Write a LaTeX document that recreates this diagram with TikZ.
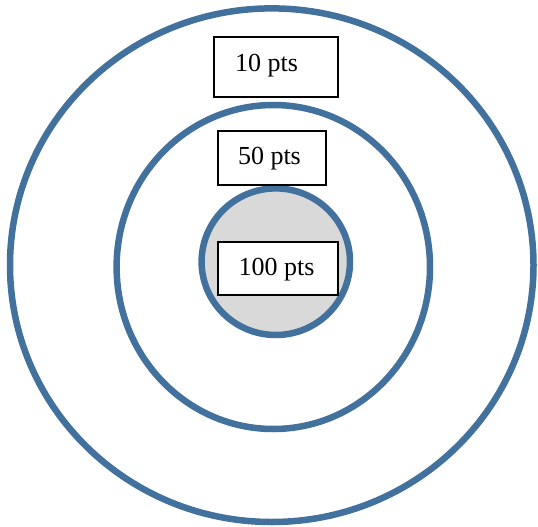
\documentclass[tikz,border=0pt]{standalone}
\usepackage{fontspec}
\setmainfont{Liberation Serif}
\usetikzlibrary{shapes.geometric}
\definecolor{ringblue}{RGB}{65,113,156}
\definecolor{coregray}{RGB}{217,217,217}
\begin{document}
\begin{tikzpicture}[x=1pt,y=-1pt,
  ring/.style={draw=ringblue, line width=6.5pt, ellipse, inner sep=0pt, outer sep=0pt},
  box/.style={draw=black, line width=2pt, fill=white, rectangle, inner sep=0pt, anchor=north west},
  lbl/.style={anchor=base west, inner sep=0pt, font=\fontsize{26}{30}\selectfont}]
\useasboundingbox (0,0) rectangle (538,527);
\node[ring, minimum width=523.5pt, minimum height=513.6pt] (outer) at (271.75,265.2) {};
\node[ring, minimum width=313.4pt, minimum height=324pt] (middle) at (273.3,267) {};
\node[ring, fill=coregray, minimum width=148.4pt, minimum height=146.6pt] (inner) at (275.8,261.7) {};
\node[box, minimum width=124.5pt, minimum height=60pt] (b10) at (212.8,36) {};
\node[lbl] (t10) at (235,71.6) {10 pts};
\node[box, minimum width=108pt, minimum height=54.4pt] (b50) at (216.9,129.6) {};
\node[lbl] (t50) at (237.8,164.7) {50 pts};
\node[box, minimum width=120.4pt, minimum height=52.8pt] (b100) at (216.9,241.3) {};
\node[lbl] (t100) at (238.5,275.6) {100 pts};
\end{tikzpicture}
\end{document}
